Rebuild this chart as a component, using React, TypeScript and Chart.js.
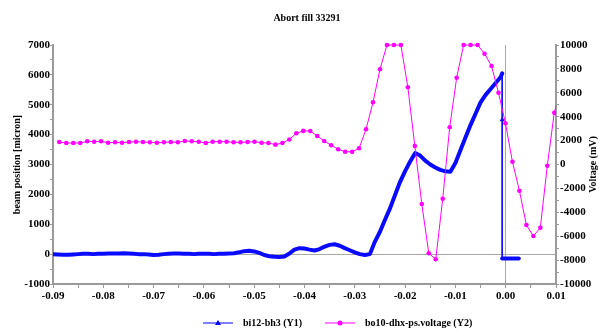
import React, { useEffect, useRef } from 'react';
import { Chart, registerables } from 'chart.js';

Chart.register(...registerables);

const TITLE = 'Abort fill 33291';
const Y1_TITLE = 'beam position [micron]';
const Y2_TITLE = 'Voltage (mV)';
const BEAM_LABEL = 'bi12-bh3 (Y1)';
const VOLTAGE_LABEL = 'bo10-dhx-ps.voltage (Y2)';

// axis ranges / ticks
const X_RANGE = [-0.09, 0.01];
const Y1_RANGE = [-1000, 7000];
const Y2_RANGE = [-10000, 10000];

// bo10-dhx-ps.voltage (mV), sampled every ~1.386 ms starting at -0.08875 s
const voltageStart = -0.08875;
const voltageStep = 0.001386;
const voltageValues = [
  1880, 1800, 1800, 1800, 1940, 1910, 1940, 1820, 1860, 1820,
  1880, 1910, 1880, 1860, 1820, 1860, 1880, 1860, 1970, 1940,
  1910, 1800, 1910, 1910, 1910, 1860, 1860, 1880, 1910, 1820,
  1800, 1660, 1800, 2090, 2610, 2810, 2800, 2385, 1967, 1607,
  1272, 1071, 1060, 1356, 2946, 5205, 7967, 10000, 10000, 10000,
  6460, 1548, -3305, -7430, -7933, -2862, 3113, 7264, 10000, 10000,
  10000, 9272, 8243, 6008, 3448, 234, -2192, -5063, -5983, -5289,
  -100, 4335, 6500,
];

// bi12-bh3 beam position (micron), read every 1 ms from -0.090 s
const beamStart = -0.09;
const beamStep = 0.001;
const beamValues = [
  0, -10, -20, -20, -10, 0, 10, 10, 0, 10,
  10, 20, 20, 20, 30, 20, 10, 0, 0, -10,
  -30, -20, 0, 10, 20, 20, 10, 10, 0, 10,
  10, 10, 0, 10, 10, 20, 30, 60, 100, 110,
  90, 40, -30, -70, -90, -100, -80, 20, 150, 200,
  190, 150, 120, 170, 250, 310, 330, 280, 200, 130,
  60, 0, -30, 0, 420, 750, 1150, 1530, 1980, 2420,
  2780, 3100, 3380, 3300, 3130, 3000, 2900, 2820, 2770, 2760,
  3050, 3480, 3900, 4320, 4700, 5080, 5330, 5530, 5730, 5930,
];
// the abort: drop and the samples after it
const beamTailTimes = [-0.0007, -0.0007, -0.0007, 0.0, 0.001, 0.002, 0.0026];
const beamTailValues = [6050, 4500, -150, -150, -150, -150, -150];

const AXIS_GRAY = '#9a9a9a';
const FONT_FAMILY = '"Liberation Serif", "Times New Roman", serif';

const decorPlugin = {
  id: 'decor',
  afterDraw(chart: any) {
    const { ctx, chartArea } = chart;
    const mid = (chartArea.top + chartArea.bottom) / 2;
    ctx.save();
    ctx.fillStyle = '#000';
    ctx.font = `bold 10px ${FONT_FAMILY}`;
    ctx.textAlign = 'center';
    ctx.textBaseline = 'middle';
    ctx.fillText(TITLE, 307, 18);

    ctx.save();
    ctx.translate(17.5, mid);
    ctx.rotate(-Math.PI / 2);
    ctx.fillText(Y1_TITLE, 0, 0);
    ctx.restore();

    ctx.save();
    ctx.translate(593, mid);
    ctx.rotate(-Math.PI / 2);
    ctx.fillText(Y2_TITLE, 0, 0);
    ctx.restore();

    // legend
    const ly = 323;
    ctx.lineWidth = 1;
    ctx.strokeStyle = '#0000ff';
    ctx.fillStyle = '#0000ff';
    ctx.beginPath();
    ctx.moveTo(203, ly);
    ctx.lineTo(233, ly);
    ctx.stroke();
    ctx.beginPath();
    ctx.moveTo(218, ly - 3);
    ctx.lineTo(221, ly + 2);
    ctx.lineTo(215, ly + 2);
    ctx.closePath();
    ctx.fill();

    ctx.strokeStyle = '#ff00ff';
    ctx.fillStyle = '#ff00ff';
    ctx.beginPath();
    ctx.moveTo(325, ly);
    ctx.lineTo(355, ly);
    ctx.stroke();
    ctx.beginPath();
    ctx.arc(340, ly, 2.5, 0, Math.PI * 2);
    ctx.fill();

    ctx.fillStyle = '#000';
    ctx.textAlign = 'left';
    ctx.fillText(BEAM_LABEL, 243, ly);
    ctx.fillText(VOLTAGE_LABEL, 365, ly);
    ctx.restore();
  },
};

export default function App() {
  const canvasRef = useRef<HTMLCanvasElement | null>(null);

  useEffect(() => {
    const canvas = canvasRef.current;
    if (!canvas) return;

    const voltagePoints = voltageValues.map((v, i) => ({ x: voltageStart + i * voltageStep, y: v }));
    const beamPoints = beamValues.map((v, i) => ({ x: beamStart + i * beamStep, y: v }));
    const dropTop = beamPoints.length;
    beamTailTimes.forEach((t, i) => beamPoints.push({ x: t, y: beamTailValues[i] }));

    const tickFont = { family: FONT_FAMILY, size: 11, weight: 'bold' as const };
    const isZero = (v: number) => Math.abs(v) < 1e-9;

    const chart = new Chart(canvas, {
      type: 'line',
      data: {
        datasets: [
          {
            label: VOLTAGE_LABEL,
            data: voltagePoints,
            yAxisID: 'y2',
            borderColor: '#ff00ff',
            backgroundColor: '#ff00ff',
            borderWidth: 1,
            pointRadius: 2.3,
            pointBorderWidth: 0,
            pointStyle: 'circle',
            tension: 0,
            order: 0,
            clip: { left: 4, top: 4, right: 0, bottom: 4 } as any,
          },
          {
            label: BEAM_LABEL,
            data: beamPoints,
            yAxisID: 'y',
            borderColor: '#0a0aff',
            backgroundColor: '#0a0aff',
            borderWidth: 4,
            borderJoinStyle: 'round',
            borderCapStyle: 'round',
            pointStyle: 'triangle',
            pointBorderWidth: 0,
            pointRadius: (c: any) => (c.dataIndex === dropTop + 1 ? 3 : 0),
            tension: 0,
            order: 1,
            segment: {
              borderWidth: (c: any) =>
                c.p0DataIndex >= dropTop && c.p1DataIndex <= dropTop + 2 ? 1 : undefined,
            },
          } as any,
        ],
      },
      options: {
        animation: false,
        responsive: false,
        devicePixelRatio: 1,
        events: [],
        layout: { padding: { top: 45, bottom: 26, left: 0, right: 0 } },
        plugins: {
          legend: { display: false },
          title: { display: false },
          tooltip: { enabled: false },
        },
        scales: {
          x: {
            type: 'linear',
            min: X_RANGE[0],
            max: X_RANGE[1],
            afterFit: (s: any) => { s.height = 20; },
            ticks: {
              stepSize: 0.005,
              autoSkip: false,
              maxRotation: 0,
              padding: 2,
              color: '#000',
              font: tickFont,
              callback: (v: any) => {
                const k = Math.round(Number(v) * 200);
                if (k % 2 !== 0) return '';
                return k === 0 ? '0.00' : (k / 200).toFixed(2);
              },
            },
            grid: {
              color: (c: any) => (c.tick && isZero(c.tick.value) ? '#a8a8a8' : 'rgba(0,0,0,0)'),
              tickColor: AXIS_GRAY,
              tickLength: 4,
              lineWidth: 1,
            },
            border: { display: true, color: AXIS_GRAY, width: 2 },
          },
          y: {
            type: 'linear',
            position: 'left',
            min: Y1_RANGE[0],
            max: Y1_RANGE[1],
            afterFit: (s: any) => { s.width = 53; },
            ticks: {
              stepSize: 500,
              autoSkip: false,
              padding: 0,
              color: '#000',
              font: tickFont,
              callback: (v: any) => (Number(v) % 1000 === 0 ? String(v) : ''),
            },
            grid: {
              color: (c: any) => (c.tick && isZero(c.tick.value) ? '#a8a8a8' : 'rgba(0,0,0,0)'),
              tickColor: AXIS_GRAY,
              tickLength: 3,
              lineWidth: 1,
            },
            border: { display: true, color: AXIS_GRAY, width: 2 },
          },
          y2: {
            type: 'linear',
            position: 'right',
            min: Y2_RANGE[0],
            max: Y2_RANGE[1],
            afterFit: (s: any) => { s.width = 43; },
            ticks: {
              stepSize: 1000,
              autoSkip: false,
              padding: 1,
              color: '#000',
              font: tickFont,
              callback: (v: any) => (Number(v) % 2000 === 0 ? String(v) : ''),
            },
            grid: {
              drawOnChartArea: false,
              color: AXIS_GRAY,
              tickColor: AXIS_GRAY,
              tickLength: 3,
              lineWidth: 1,
            },
            border: { display: true, color: AXIS_GRAY, width: 2 },
          },
        },
      } as any,
      plugins: [decorPlugin],
    });

    return () => chart.destroy();
  }, []);

  return (
    <div style={{ position: 'absolute', left: 0, top: 0, width: 599, height: 330, background: '#fff' }}>
      <canvas ref={canvasRef} width={599} height={330} style={{ display: 'block', width: 599, height: 330 }} />
    </div>
  );
}
